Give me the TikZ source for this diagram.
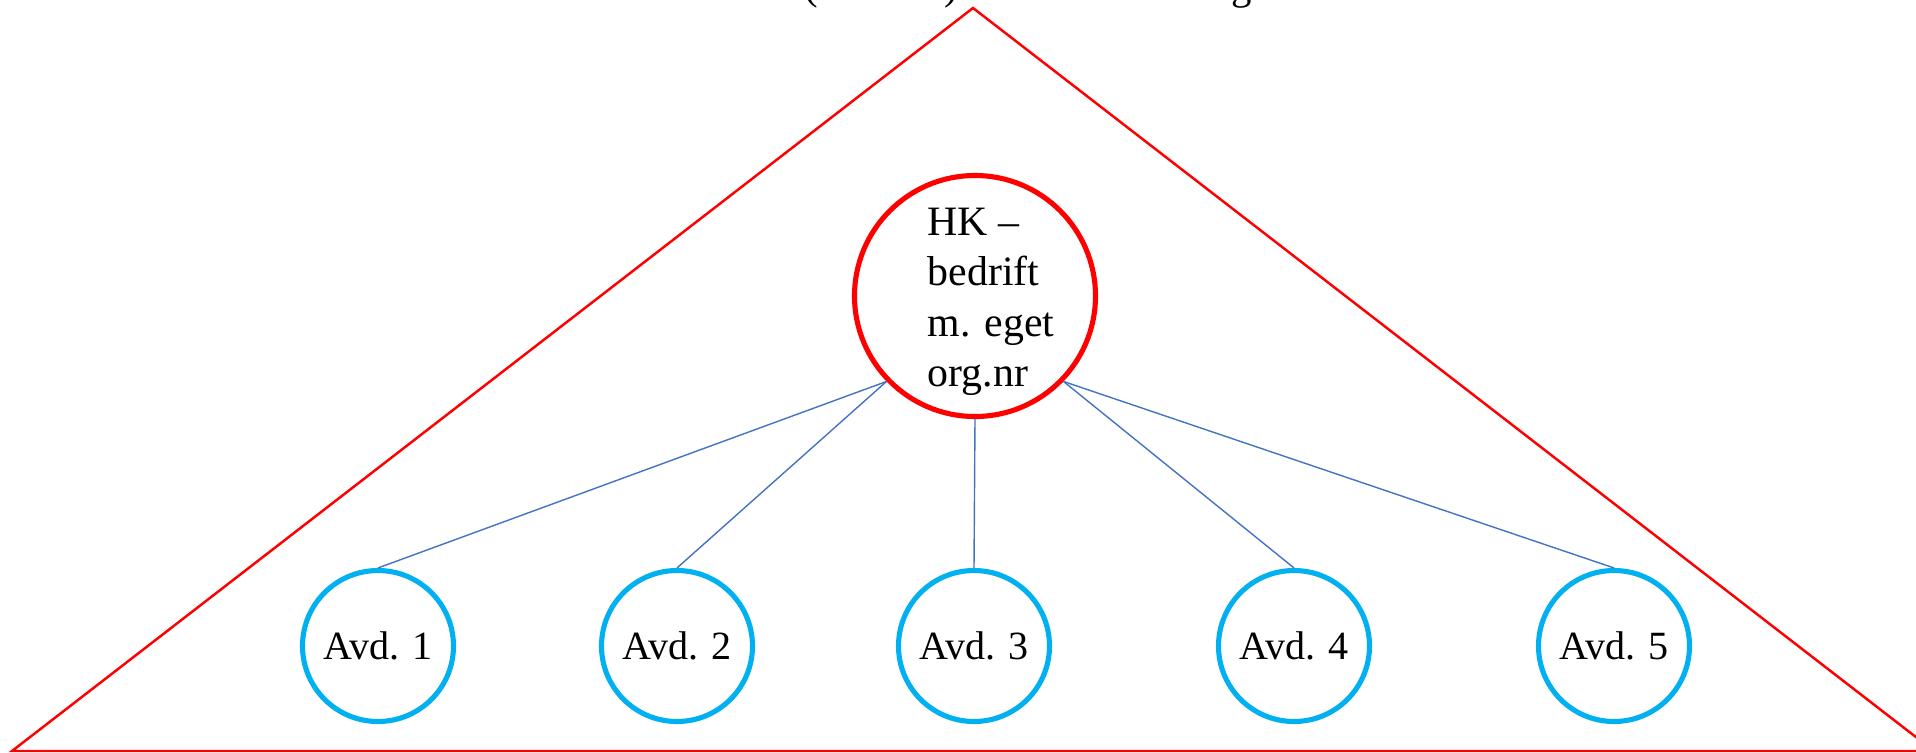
\documentclass[tikz,border=0pt]{standalone}
\usepackage{fontspec}
\setmainfont{Liberation Serif}
\usepackage{xcolor}
\usepackage{tikz}
\usetikzlibrary{positioning, calc}
\definecolor{firmred}{HTML}{FF0000}
\definecolor{deptcyan}{HTML}{00B0F0}
\definecolor{linkblue}{HTML}{4472C4}
\tikzset{
  firm/.style={draw=firmred, line width=0.7pt},
  hq/.style={circle, draw=firmred, line width=1.45pt, fill=white, inner sep=0pt, minimum size=24.1mm},
  hqtext/.style={anchor=base west, inner sep=0pt, font=\fontsize{11.9pt}{14.4pt}\selectfont},
  dept/.style={circle, draw=deptcyan, line width=1.45pt, fill=white, inner sep=0pt, minimum size=15.1mm, font=\fontsize{11.4pt}{13.6pt}\selectfont},
  link/.style={draw=linkblue, line width=0.4pt},
}

\begin{document}
\begin{tikzpicture}
  \clip (0,0) rectangle (19.16,7.52);

  % Caption above the triangle, almost entirely cut off by the page edge
  \node[anchor=base west, inner sep=0pt, font=\fontsize{11.6pt}{14.2pt}\selectfont] (title) at (6.69,7.53)
    {Foretak (enheten) med ett felles org.nr};

  % The firm as a large triangle
  \coordinate (apex) at (9.73,7.44);
  \coordinate (baseL) at (0.12,0.01);
  \coordinate (baseR) at (19.34,0.01);
  \draw[firm] (baseL) -- (apex) -- (baseR) -- cycle;

  % Head office, its text set a little right of and below the centre
  \node[hq] (hk) at (9.75,4.56) {};
  \node[hqtext] (hklabel) at ([xshift=-4.8mm, yshift=6.1mm]hk.center)
    {\begin{tabular}[t]{@{}l@{}}HK --\\ bedrift\\ m. eget\\ org.nr\end{tabular}};

  % Departments along the base
  \node[dept] (avd1) at (3.78,1.06) {Avd. 1};
  \node[dept] (avd2) at (6.77,1.06) {Avd. 2};
  \node[dept] (avd3) at (9.74,1.06) {Avd. 3};
  \node[dept] (avd4) at (12.94,1.06) {Avd. 4};
  \node[dept] (avd5) at (16.14,1.06) {Avd. 5};

  % Lines from head office down to each department
  \draw[link] (hk.-136) -- (avd1.north);
  \draw[link] (hk.-136) -- (avd2.north);
  \draw[link] (hk.south) -- (avd3.north);
  \draw[link] (hk.-44) -- (avd4.north);
  \draw[link] (hk.-44) -- (avd5.north);
\end{tikzpicture}
\end{document}
